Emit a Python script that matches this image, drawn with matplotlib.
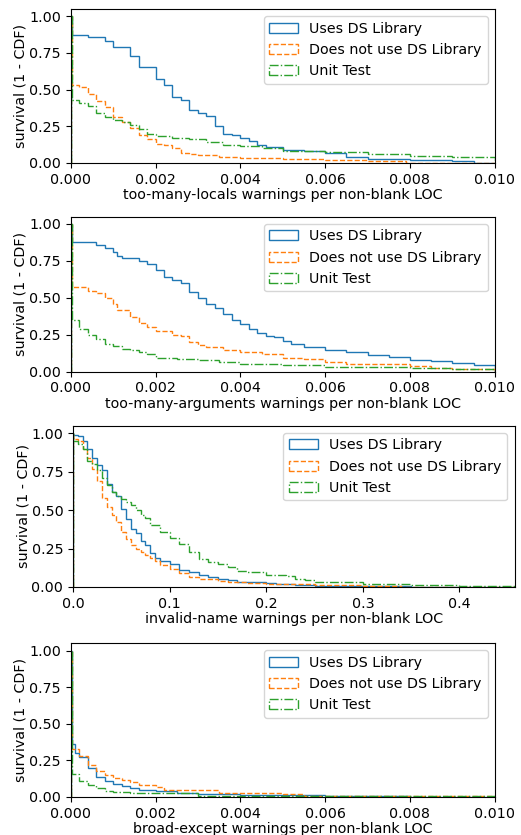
import matplotlib
matplotlib.use("Agg")
from matplotlib import pyplot as plt

W, H = 521, 835
plt.rcParams["font.size"] = 10.3

labels = ["Uses DS Library", "Does not use DS Library", "Unit Test"]
colors = ["tab:blue", "tab:orange", "tab:green"]
styles = ["-", "--", "-."]

# panel 1: too-many-locals
loc_x_ds = [0, 0.00002, 0.0004, 0.0008, 0.001, 0.0014, 0.0016, 0.002, 0.0022, 0.0024, 0.0026, 0.0028,
            0.003, 0.0032, 0.0034, 0.0036, 0.0038, 0.004, 0.0042, 0.0044, 0.0046, 0.005, 0.0055,
            0.006, 0.0065, 0.007, 0.008, 0.009, 0.0095]
loc_y_ds = [1.0, 0.87, 0.86, 0.83, 0.79, 0.73, 0.65, 0.57, 0.53, 0.45, 0.43, 0.36,
            0.34, 0.32, 0.25, 0.20, 0.19, 0.17, 0.15, 0.12, 0.11, 0.09, 0.085,
            0.065, 0.04, 0.025, 0.02, 0.013, 0.003]
loc_x_no = [0, 0.00002, 0.0002, 0.0004, 0.0006, 0.0008, 0.001, 0.0012, 0.0014, 0.0016, 0.0018, 0.002,
            0.0022, 0.0024, 0.0026, 0.0028, 0.003, 0.0035, 0.004, 0.005, 0.006, 0.007, 0.0079]
loc_y_no = [1.0, 0.53, 0.52, 0.47, 0.42, 0.38, 0.31, 0.28, 0.24, 0.19, 0.16, 0.13,
            0.12, 0.10, 0.07, 0.06, 0.055, 0.04, 0.035, 0.025, 0.02, 0.015, 0.002]
loc_x_ut = [0, 0.00002, 0.0002, 0.0004, 0.0006, 0.0008, 0.001, 0.0012, 0.0014, 0.0016, 0.0018, 0.002,
            0.0024, 0.0028, 0.0032, 0.0036, 0.004, 0.0045, 0.005, 0.006, 0.007, 0.008, 0.009]
loc_y_ut = [1.0, 0.43, 0.41, 0.39, 0.34, 0.31, 0.295, 0.28, 0.26, 0.23, 0.20, 0.185,
            0.17, 0.16, 0.145, 0.125, 0.115, 0.10, 0.085, 0.075, 0.06, 0.05, 0.04]

# panel 2: too-many-arguments
arg_x_ds = [0, 0.00002, 0.0004, 0.0006, 0.0008, 0.001, 0.0011, 0.0012, 0.0016, 0.0018, 0.002, 0.0022,
            0.0024, 0.0026, 0.0028, 0.003, 0.0032, 0.0034, 0.0036, 0.0038, 0.004, 0.0042, 0.0044,
            0.0046, 0.0048, 0.005, 0.0052, 0.0055, 0.006, 0.0065, 0.007, 0.0075, 0.008, 0.0085,
            0.009, 0.0095]
arg_y_ds = [1.0, 0.88, 0.875, 0.86, 0.84, 0.81, 0.78, 0.77, 0.75, 0.73, 0.69, 0.64,
            0.62, 0.60, 0.54, 0.50, 0.46, 0.43, 0.39, 0.35, 0.32, 0.29, 0.26,
            0.24, 0.235, 0.21, 0.19, 0.165, 0.15, 0.13, 0.11, 0.10, 0.08, 0.075,
            0.06, 0.045]
arg_x_no = [0, 0.00002, 0.0004, 0.0006, 0.0008, 0.001, 0.0011, 0.0014, 0.0016, 0.0018, 0.002, 0.0024,
            0.0026, 0.0028, 0.003, 0.0032, 0.0036, 0.004, 0.0045, 0.005, 0.0055, 0.006, 0.0065,
            0.007, 0.008, 0.0085, 0.009]
arg_y_no = [1.0, 0.57, 0.545, 0.53, 0.50, 0.46, 0.42, 0.37, 0.33, 0.30, 0.275, 0.25,
            0.24, 0.20, 0.18, 0.165, 0.145, 0.13, 0.12, 0.09, 0.085, 0.065, 0.055,
            0.05, 0.04, 0.025, 0.015]
arg_x_ut = [0, 0.00002, 0.0002, 0.0004, 0.0006, 0.0008, 0.001, 0.0012, 0.0014, 0.0016, 0.0018, 0.002,
            0.0025, 0.003, 0.0035, 0.004, 0.005, 0.006, 0.007, 0.008, 0.009]
arg_y_ut = [1.0, 0.35, 0.29, 0.25, 0.22, 0.19, 0.175, 0.155, 0.15, 0.13, 0.12, 0.09,
            0.085, 0.08, 0.065, 0.05, 0.045, 0.035, 0.03, 0.025, 0.02]

# panel 3: invalid-name
inv_x_ds = [0, 0.0005, 0.005, 0.01, 0.015, 0.02, 0.025, 0.03, 0.035, 0.04, 0.045, 0.05, 0.055, 0.06,
            0.065, 0.07, 0.075, 0.08, 0.085, 0.09, 0.1, 0.11, 0.12, 0.13, 0.14, 0.15, 0.16, 0.17,
            0.18, 0.2, 0.21, 0.23, 0.25, 0.3, 0.35]
inv_y_ds = [1.0, 0.99, 0.98, 0.95, 0.90, 0.84, 0.79, 0.76, 0.67, 0.62, 0.59, 0.51, 0.44, 0.38,
            0.35, 0.30, 0.27, 0.22, 0.19, 0.17, 0.15, 0.11, 0.095, 0.08, 0.065, 0.055, 0.045, 0.035,
            0.03, 0.025, 0.02, 0.012, 0.008, 0.004, 0.002]
inv_x_no = [0, 0.0005, 0.005, 0.01, 0.015, 0.02, 0.025, 0.03, 0.035, 0.04, 0.045, 0.05, 0.055, 0.06,
            0.065, 0.07, 0.075, 0.08, 0.085, 0.09, 0.1, 0.11, 0.12, 0.13, 0.14, 0.15, 0.16, 0.18,
            0.2, 0.25, 0.3, 0.34]
inv_y_no = [1.0, 0.96, 0.95, 0.90, 0.84, 0.77, 0.69, 0.58, 0.52, 0.47, 0.42, 0.36, 0.31, 0.27,
            0.25, 0.23, 0.21, 0.19, 0.17, 0.14, 0.12, 0.09, 0.065, 0.055, 0.05, 0.04, 0.03, 0.025,
            0.018, 0.01, 0.006, 0.002]
inv_x_ut = [0, 0.0005, 0.005, 0.01, 0.015, 0.02, 0.025, 0.03, 0.035, 0.04, 0.045, 0.05, 0.055, 0.06,
            0.065, 0.07, 0.075, 0.08, 0.09, 0.1, 0.11, 0.12, 0.13, 0.14, 0.15, 0.16, 0.17, 0.18,
            0.2, 0.22, 0.23, 0.24, 0.25, 0.3, 0.35, 0.4]
inv_y_ut = [1.0, 0.95, 0.93, 0.90, 0.82, 0.80, 0.76, 0.71, 0.66, 0.62, 0.59, 0.57, 0.55, 0.53,
            0.50, 0.47, 0.45, 0.40, 0.36, 0.32, 0.28, 0.23, 0.18, 0.16, 0.15, 0.13, 0.105, 0.095,
            0.08, 0.07, 0.055, 0.045, 0.03, 0.02, 0.01, 0.005]

# panel 4: broad-except
exc_x_ds = [0, 0.00002, 0.0001, 0.0002, 0.0004, 0.0006, 0.0008, 0.001, 0.0012, 0.0014, 0.0016, 0.002,
            0.0025, 0.003, 0.004, 0.005, 0.006, 0.0065, 0.008]
exc_y_ds = [1.0, 0.36, 0.30, 0.27, 0.20, 0.14, 0.11, 0.09, 0.075, 0.06, 0.05, 0.04,
            0.025, 0.02, 0.015, 0.012, 0.01, 0.005, 0.003]
exc_x_no = [0, 0.00002, 0.0002, 0.0004, 0.0006, 0.0008, 0.001, 0.0012, 0.0014, 0.0016, 0.002, 0.0022,
            0.003, 0.0035, 0.005, 0.0055, 0.006, 0.008]
exc_y_no = [1.0, 0.33, 0.28, 0.22, 0.18, 0.15, 0.13, 0.115, 0.10, 0.085, 0.07, 0.05,
            0.045, 0.025, 0.02, 0.01, 0.008, 0.005]
exc_x_ut = [0, 0.00002, 0.0002, 0.0004, 0.0006, 0.0008, 0.001, 0.0014, 0.002, 0.003, 0.006, 0.008]
exc_y_ut = [1.0, 0.16, 0.11, 0.08, 0.06, 0.04, 0.035, 0.03, 0.025, 0.01, 0.008, 0.004]

panels = [
    ("too-many-locals", 0.01, [(loc_x_ds, loc_y_ds), (loc_x_no, loc_y_no), (loc_x_ut, loc_y_ut)],
     [0.000, 0.002, 0.004, 0.006, 0.008, 0.010], "%.3f"),
    ("too-many-arguments", 0.01, [(arg_x_ds, arg_y_ds), (arg_x_no, arg_y_no), (arg_x_ut, arg_y_ut)],
     [0.000, 0.002, 0.004, 0.006, 0.008, 0.010], "%.3f"),
    ("invalid-name", 0.457, [(inv_x_ds, inv_y_ds), (inv_x_no, inv_y_no), (inv_x_ut, inv_y_ut)],
     [0.0, 0.1, 0.2, 0.3, 0.4], "%.1f"),
    ("broad-except", 0.01, [(exc_x_ds, exc_y_ds), (exc_x_no, exc_y_no), (exc_x_ut, exc_y_ut)],
     [0.000, 0.002, 0.004, 0.006, 0.008, 0.010], "%.3f"),
]

# axes boxes in pixels: left, top, right, bottom
boxes = [(70.7, 8.7, 494.7, 163), (70.7, 216.5, 494.7, 371.7),
         (73, 425.5, 514.5, 587), (70.7, 643.3, 494.7, 797)]

fig = plt.figure(figsize=(W / 100, H / 100), dpi=100)

for (name, xmax, series, ticks, fmt), (l, t, r, b) in zip(panels, boxes):
    ax = fig.add_axes([l / W, 1 - b / H, (r - l) / W, (b - t) / H])
    for (xs, ys), c, ls, lab in zip(series, colors, styles, labels):
        # each read-off point is its own bin, weighted by the survival value
        ax.hist(xs, bins=list(xs) + [xmax], weights=ys, histtype="step",
                color=c, linestyle=ls, linewidth=1.0, label=lab)
    ax.set_xlim(0, xmax)
    ax.set_ylim(0, 1.05)
    ax.set_xticks(ticks)
    ax.set_xticklabels([fmt % v for v in ticks])
    ax.set_yticks([0, 0.25, 0.5, 0.75, 1.0])
    ax.set_yticklabels(["0.00", "0.25", "0.50", "0.75", "1.00"])
    ax.set_xlabel(name + " warnings per non-blank LOC", labelpad=1)
    ax.set_ylabel("survival (1 - CDF)", labelpad=1)
    ax.legend(loc="upper right")

plt.savefig("out.png", dpi=100)
